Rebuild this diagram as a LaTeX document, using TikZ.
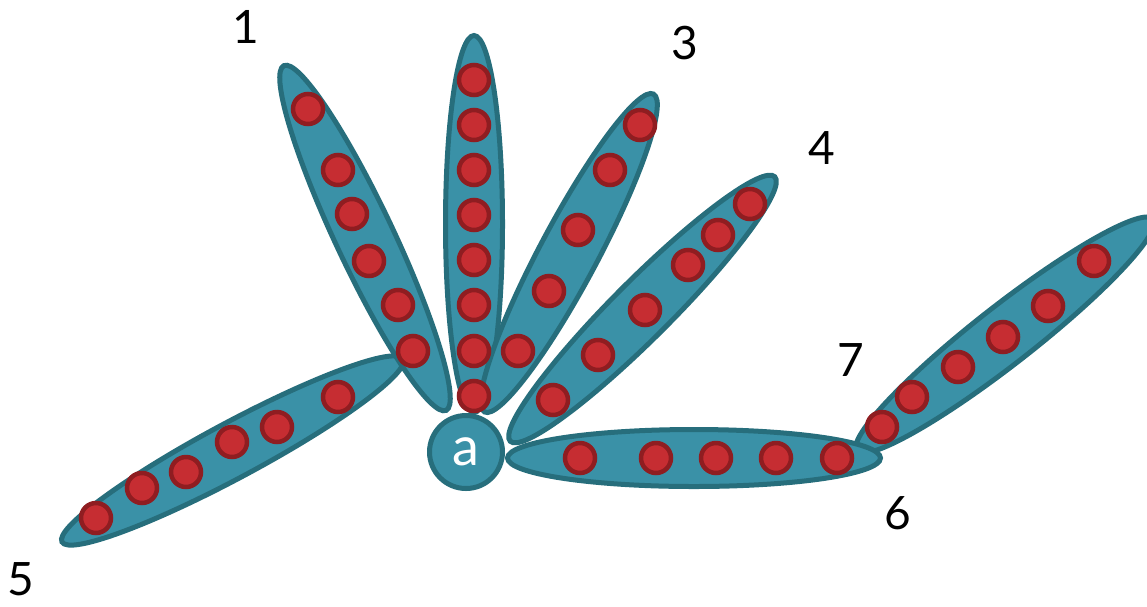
\documentclass[tikz,border=0pt]{standalone}
\usepackage{fontspec}
\newfontfamily\labfont{Lato}
\definecolor{petalfill}{HTML}{3A91A7}
\definecolor{petalline}{HTML}{276E7C}
\definecolor{dotfill}{HTML}{C62D32}
\definecolor{dotline}{HTML}{8F1D21}
\tikzset{
  petal/.style={fill=petalfill, draw=petalline, line width=5pt},
  vdot/.style={circle, fill=dotfill, draw=dotline, line width=4.5pt, minimum size=30pt, inner sep=0pt},
  center/.style={circle, fill=petalfill, draw=petalline, line width=5pt, minimum size=73pt, inner sep=0pt, text=white, font=\labfont\fontsize{54}{56}\selectfont},
  lab/.style={font=\labfont\fontsize{46}{48}\selectfont, inner sep=0pt, text=black}
}
\begin{document}
\begin{tikzpicture}[x=1pt, y=-1pt]
\useasboundingbox (0,0) rectangle (1147,606);
\clip (0,0) rectangle (1147,606);
% hyperedges (petals)
\draw[petal, rotate around={28.2:(232.5,450.5)}] (232.5,450.5) ellipse [x radius=193.5pt, y radius=27.5pt];
\draw[petal, rotate around={115.2:(365,238)}] (365,238) ellipse [x radius=190.5pt, y radius=29pt];
\draw[petal, rotate around={90:(474,224)}] (474,224) ellipse [x radius=188.5pt, y radius=28.5pt];
\draw[petal, rotate around={62:(569,253)}] (569,253) ellipse [x radius=180pt, y radius=29pt];
\draw[petal, rotate around={45:(642.5,309)}] (642.5,309) ellipse [x radius=187pt, y radius=29pt];
\draw[petal, rotate around={38:(1005,335)}] (1005,335) ellipse [x radius=188pt, y radius=29pt];
\draw[petal] (694,458) ellipse [x radius=186.5pt, y radius=28.5pt];
% center vertex
\node[center] (a) at (466,452) {\raisebox{-2pt}{a}};
% vertices of edge 1
\node[vdot] (e1a) at (308,109) {};
\node[vdot] (e1b) at (338,170) {};
\node[vdot] (e1c) at (352,214) {};
\node[vdot] (e1d) at (369,261) {};
\node[vdot] (e1e) at (398,305) {};
\node[vdot] (e1f) at (413,351) {};
% vertices of edge 2
\node[vdot] (e2a) at (474,80) {};
\node[vdot] (e2b) at (474,125) {};
\node[vdot] (e2c) at (474,170) {};
\node[vdot] (e2d) at (474,215) {};
\node[vdot] (e2e) at (474,260) {};
\node[vdot] (e2f) at (474,305) {};
\node[vdot] (e2g) at (474,351) {};
\node[vdot] (e2h) at (474,396) {};
% vertices of edge 3
\node[vdot] (e3a) at (640,125) {};
\node[vdot] (e3b) at (610,170) {};
\node[vdot] (e3c) at (578,230) {};
\node[vdot] (e3d) at (549,291) {};
\node[vdot] (e3e) at (518,351) {};
% vertices of edge 4
\node[vdot] (e4a) at (750,204) {};
\node[vdot] (e4b) at (718,235) {};
\node[vdot] (e4c) at (688,265) {};
\node[vdot] (e4d) at (645,310) {};
\node[vdot] (e4e) at (598,355) {};
\node[vdot] (e4f) at (553,400) {};
% vertices of edge 5
\node[vdot] (e5a) at (96,518) {};
\node[vdot] (e5b) at (142,488) {};
\node[vdot] (e5c) at (186,472) {};
\node[vdot] (e5d) at (232,442) {};
\node[vdot] (e5e) at (277,427) {};
\node[vdot] (e5f) at (338,397) {};
% vertices of edge 6
\node[vdot] (e6a) at (580,458) {};
\node[vdot] (e6b) at (656,458) {};
\node[vdot] (e6c) at (716,458) {};
\node[vdot] (e6d) at (776,458) {};
\node[vdot] (e6e) at (837,458) {};
% vertices of edge 7
\node[vdot] (e7a) at (882,427) {};
\node[vdot] (e7b) at (912,397) {};
\node[vdot] (e7c) at (958,367) {};
\node[vdot] (e7d) at (1003,337) {};
\node[vdot] (e7e) at (1048,306) {};
\node[vdot] (e7f) at (1094,261) {};
% labels
\node[lab] (l1) at (246,27) {1};
\node[lab] (l3) at (685,43) {3};
\node[lab] (l4) at (822,148) {4};
\node[lab] (l5) at (21,579) {5};
\node[lab] (l6) at (898,513) {6};
\node[lab] (l7) at (851,360) {7};
\end{tikzpicture}
\end{document}
